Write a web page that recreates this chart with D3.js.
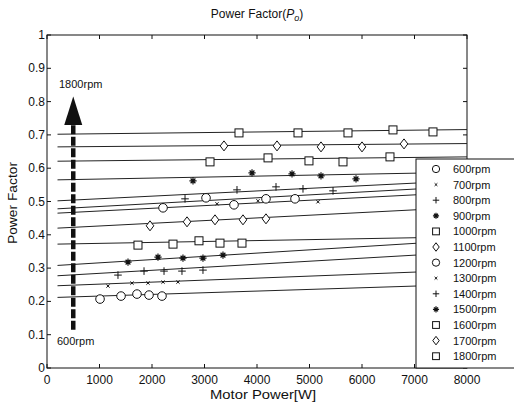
<!DOCTYPE html>
<html>
<head>
<meta charset="utf-8">
<script src="https://cdn.jsdelivr.net/npm/d3@7/dist/d3.min.js"></script>
<style>
  body { margin: 0; background: #fff; }
  text { font-family: "Liberation Sans", Arial, sans-serif; fill: #111; }
</style>
</head>
<body>
<script>
// speeds and marker types (MATLAB style)
const speeds = ['600rpm', '700rpm', '800rpm', '900rpm', '1000rpm', '1100rpm', '1200rpm',
  '1300rpm', '1400rpm', '1500rpm', '1600rpm', '1700rpm', '1800rpm'];
const markerTypes = ['o', 'x', '+', '*', 's', 'd', 'o', 'x', '+', '*', 's', 'd', 's'];

// measured points
const powerW = [
  [1010, 1410, 1714, 1943, 2190],
  [1162, 1619, 1924, 2210, 2495],
  [1352, 1848, 2229, 2571, 2971],
  [1543, 2114, 2590, 2971, 3352],
  [1733, 2400, 2895, 3295, 3714],
  [1962, 2667, 3200, 3733, 4171],
  [2210, 3029, 3562, 4171, 4724],
  [3238, 4019, 5162],
  [2629, 3619, 4362, 4876, 5448],
  [2781, 3905, 4667, 5219, 5886],
  [3105, 4210, 4990, 5638, 6533],
  [3371, 4381, 5219, 6000, 6800],
  [3657, 4781, 5733, 6590, 7352]
];
const powerFactor = [
  [0.207, 0.216, 0.222, 0.219, 0.216],
  [0.246, 0.255, 0.255, 0.258, 0.258],
  [0.279, 0.291, 0.291, 0.291, 0.294],
  [0.318, 0.333, 0.330, 0.330, 0.339],
  [0.369, 0.372, 0.382, 0.375, 0.375],
  [0.427, 0.439, 0.445, 0.445, 0.448],
  [0.481, 0.511, 0.490, 0.508, 0.508],
  [0.493, 0.502, 0.499],
  [0.508, 0.535, 0.544, 0.538, 0.532],
  [0.562, 0.586, 0.583, 0.577, 0.568],
  [0.619, 0.631, 0.622, 0.619, 0.634],
  [0.667, 0.667, 0.664, 0.664, 0.673],
  [0.706, 0.706, 0.706, 0.715, 0.709]
];

// fitted lines: value at start and end of the fit range
const fitRange = [200, 8000];
const fitStart = [0.212, 0.247, 0.277, 0.308, 0.372, 0.420, 0.465, 0.478, 0.502, 0.565, 0.621, 0.664, 0.702];
const fitEnd = [0.251, 0.294, 0.348, 0.384, 0.394, 0.483, 0.528, 0.546, 0.563, 0.588, 0.634, 0.674, 0.716];

// arrow annotation
const arrowX = 500;
const arrowFrom = 0.115;
const arrowBase = 0.73;
const arrowTip = 0.815;
const labelTop = '1800rpm';
const labelBottom = '600rpm';

const xTicks = [0, 1000, 2000, 3000, 4000, 5000, 6000, 7000, 8000];
const yTicks = [0, 0.1, 0.2, 0.3, 0.4, 0.5, 0.6, 0.7, 0.8, 0.9, 1];

const width = 514;
const height = 408;
const ink = '#111';

const svg = d3.select('body').append('svg')
  .attr('width', width)
  .attr('height', height);

const x = d3.scaleLinear().domain([0, 8000]).range([47, 467]);
const y = d3.scaleLinear().domain([0, 1]).range([368, 35]);

// title
const title = svg.append('text')
  .attr('x', 257).attr('y', 18)
  .attr('text-anchor', 'middle')
  .style('font-size', '12px');
title.append('tspan').text('Power Factor(');
title.append('tspan').style('font-style', 'italic').text('P');
title.append('tspan').style('font-style', 'italic').style('font-size', '9px').attr('dy', 3).text('o');
title.append('tspan').attr('dy', -3).text(')');

// axes frame
svg.append('rect')
  .attr('x', x(0)).attr('y', y(1))
  .attr('width', x(8000) - x(0)).attr('height', y(0) - y(1))
  .attr('fill', 'none').attr('stroke', ink).attr('stroke-width', 1);

// ticks, inward on all sides
const gx = svg.append('g');
gx.selectAll('.tb').data(xTicks).join('line')
  .attr('x1', d => x(d)).attr('x2', d => x(d))
  .attr('y1', y(0)).attr('y2', y(0) - 4)
  .attr('stroke', ink);
gx.selectAll('.tt').data(xTicks).join('line')
  .attr('x1', d => x(d)).attr('x2', d => x(d))
  .attr('y1', y(1)).attr('y2', y(1) + 4)
  .attr('stroke', ink);
gx.selectAll('text').data(xTicks).join('text')
  .attr('x', d => x(d)).attr('y', 384)
  .attr('text-anchor', 'middle')
  .style('font-size', '12px')
  .text(d => d);

const gy = svg.append('g');
gy.selectAll('.tl').data(yTicks).join('line')
  .attr('x1', x(0)).attr('x2', x(0) + 4)
  .attr('y1', d => y(d)).attr('y2', d => y(d))
  .attr('stroke', ink);
gy.selectAll('.tr').data(yTicks).join('line')
  .attr('x1', x(8000)).attr('x2', x(8000) - 4)
  .attr('y1', d => y(d)).attr('y2', d => y(d))
  .attr('stroke', ink);
gy.selectAll('text').data(yTicks).join('text')
  .attr('x', 45).attr('y', d => y(d) + 4)
  .attr('text-anchor', 'end')
  .style('font-size', '12px')
  .text(d => d === 0 || d === 1 ? d : d.toFixed(1));

// axis labels
svg.append('text')
  .attr('x', 263).attr('y', 399)
  .attr('text-anchor', 'middle')
  .attr('textLength', 106)
  .attr('lengthAdjust', 'spacingAndGlyphs')
  .style('font-size', '12px')
  .text('Motor Power[W]');
svg.append('text')
  .attr('transform', 'translate(17,203) rotate(-90)')
  .attr('text-anchor', 'middle')
  .attr('textLength', 82)
  .attr('lengthAdjust', 'spacingAndGlyphs')
  .style('font-size', '12px')
  .text('Power Factor');

// fitted lines
const line = d3.line().x(d => x(d[0])).y(d => y(d[1]));
svg.append('g').selectAll('path').data(speeds).join('path')
  .attr('d', (s, i) => line([[fitRange[0], fitStart[i]], [fitRange[1], fitEnd[i]]]))
  .attr('fill', 'none')
  .attr('stroke', '#222')
  .attr('stroke-width', 1);

// marker drawing
function drawMarker(g, type, cx, cy, k) {
  const st = { stroke: ink, 'stroke-width': 1, fill: 'none' };
  const apply = sel => { Object.entries(st).forEach(([a, v]) => sel.attr(a, v)); return sel; };
  if (type === 'o') {
    apply(g.append('circle')).attr('cx', cx).attr('cy', cy).attr('r', 4.3 * k).attr('fill', '#fff');
  } else if (type === 's') {
    const h = 4 * k;
    apply(g.append('rect')).attr('x', cx - h).attr('y', cy - h).attr('width', 2 * h).attr('height', 2 * h).attr('fill', '#fff');
  } else if (type === 'd') {
    const w = 3.8 * k, h = 5 * k;
    apply(g.append('path')).attr('d', `M${cx},${cy - h}L${cx + w},${cy}L${cx},${cy + h}L${cx - w},${cy}Z`).attr('fill', '#fff');
  } else if (type === '+') {
    const h = 3.8 * k;
    apply(g.append('path')).attr('d', `M${cx - h},${cy}H${cx + h}M${cx},${cy - h}V${cy + h}`);
  } else if (type === 'x') {
    const h = 1.6 * k;
    apply(g.append('path')).attr('d', `M${cx - h},${cy - h}L${cx + h},${cy + h}M${cx - h},${cy + h}L${cx + h},${cy - h}`);
  } else if (type === '*') {
    const h = 3.6 * k, d = 2.4 * k;
    apply(g.append('path'))
      .attr('stroke-width', 1.2)
      .attr('d', `M${cx - h},${cy}H${cx + h}M${cx},${cy - h}V${cy + h}M${cx - d},${cy - d}L${cx + d},${cy + d}M${cx - d},${cy + d}L${cx + d},${cy - d}`);
  }
}

// data points
const gm = svg.append('g');
speeds.forEach((s, i) => {
  powerW[i].forEach((w, j) => {
    drawMarker(gm, markerTypes[i], x(w), y(powerFactor[i][j]), 1);
  });
});

// arrow annotation
svg.append('line')
  .attr('x1', x(arrowX)).attr('x2', x(arrowX))
  .attr('y1', y(arrowFrom)).attr('y2', y(arrowBase))
  .attr('stroke', ink).attr('stroke-width', 4.5)
  .attr('stroke-dasharray', '9,2.5');
svg.append('path')
  .attr('d', `M${x(arrowX)},${y(arrowTip)}L${x(arrowX) + 9},${y(arrowBase)}L${x(arrowX) - 9},${y(arrowBase)}Z`)
  .attr('fill', ink);
svg.append('text')
  .attr('x', 59).attr('y', 88)
  .style('font-size', '11px')
  .text(labelTop);
svg.append('text')
  .attr('x', 57).attr('y', 345)
  .style('font-size', '11px')
  .text(labelBottom);

// legend
const lg = svg.append('g');
lg.append('rect')
  .attr('x', 416).attr('y', 159)
  .attr('width', 110).attr('height', 209)
  .attr('fill', '#fff').attr('stroke', ink).attr('stroke-width', 1);
speeds.forEach((s, i) => {
  const ly = 169 + i * 15.6;
  drawMarker(lg, markerTypes[i], 436, ly, 0.85);
  lg.append('text')
    .attr('x', 453).attr('y', ly + 4)
    .style('font-size', '11px')
    .text(s);
});
</script>
</body>
</html>
